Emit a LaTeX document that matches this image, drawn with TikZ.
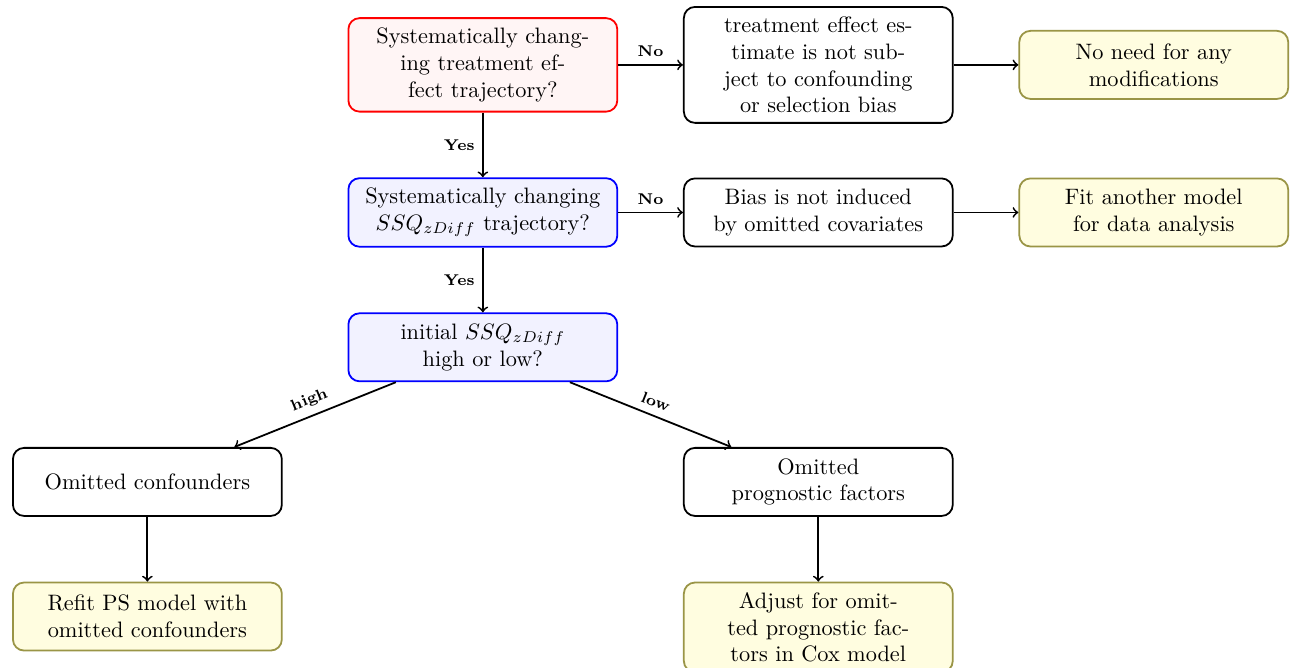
\documentclass[tikz,border=0pt]{standalone}
\usetikzlibrary{positioning}
\tikzset{
    box/.style = {rectangle, draw, thick, rounded corners=5pt, text width=3.8cm,
                  align=center, minimum width=120.5pt, minimum height=30.5pt, inner ysep=4.4pt},
    question/.style = {box, draw=red, fill=red!4},
    check/.style = {box, draw=blue, fill=blue!5},
    result/.style = {box, draw=yellow!55!black, fill=yellow!12},
    lbl/.style = {font=\scriptsize\bfseries},
    conn/.style = {->, thick}
}
\begin{document}
\begin{tikzpicture}[node distance = 1.02cm]
            \node [question] (trend){Systematically chang-\\ ing treatment ef-\\ fect trajectory?};
            \node [box, right=of trend] (nobias){treatment effect es-\\ timate is not sub-\\ ject to confounding\\ or selection bias};
            \node [result, right=of nobias] (nomod){No need for any\\ modifications};
            \node [check, below=of trend] (ssqtrend){Systematically changing\\ $SSQ_{zDiff}$ trajectory?};
            \node [box, right=of ssqtrend] (nocov){Bias is not induced\\ by omitted covariates};
            \node [result, right=of nocov] (other){Fit another model\\ for data analysis};
            \node [check, below=of ssqtrend] (initial){initial $SSQ_{zDiff}$\\ high or low?};
            \node [box, below left=1.02cm and 1.02cm of initial] (conf){Omitted confounders};
            \node [box, below right=1.02cm and 1.02cm of initial] (prog){Omitted\\ prognostic factors};
            \node [result, below=of conf] (refit){Refit PS model with\\ omitted confounders};
            \node [result, below=of prog] (adjust){Adjust for omit-\\ ted prognostic fac-\\ tors in Cox model};

            \draw [conn] (trend) -- node [lbl, above] {No} (nobias);
            \draw [conn] (nobias) -- (nomod);
            \draw [conn] (trend) -- node [lbl, left] {Yes} (ssqtrend);
            \draw [conn] (ssqtrend) -- node [lbl, above] {No} (nocov);
            \draw [conn] (nocov) -- (other);
            \draw [conn] (ssqtrend) -- node [lbl, left] {Yes} (initial);
            \draw [conn] (initial) -- node [lbl, sloped, above] {high} (conf);
            \draw [conn] (initial) -- node [lbl, sloped, above] {low} (prog);
            \draw [conn] (conf) -- (refit);
            \draw [conn] (prog) -- (adjust);

            \coordinate [xshift=-5.4pt] (bbleft) at (conf.west);
            \coordinate [yshift=2.7pt] (bbtop) at (nobias.north);
            \coordinate [xshift=0.4pt] (bbright) at (nomod.east);
            \coordinate [yshift=-7.1pt] (bbbottom) at (refit.south);
            \pgfresetboundingbox
            \useasboundingbox (bbleft |- bbtop) rectangle (bbright |- bbbottom);
        \end{tikzpicture}
\end{document}
